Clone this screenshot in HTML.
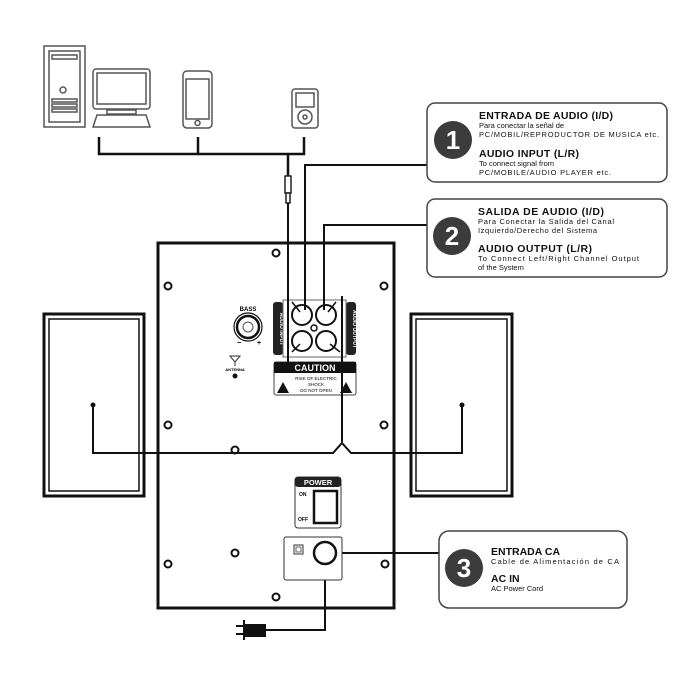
<!DOCTYPE html>
<html><head><meta charset="utf-8"><style>
html,body{margin:0;padding:0;background:#fff}
svg{display:block}
text{font-family:"Liberation Sans",sans-serif}
</style></head><body>
<svg width="700" height="700" viewBox="0 0 700 700" xmlns="http://www.w3.org/2000/svg">
<g fill="none" stroke="#555" stroke-width="1.5">
<rect x="44" y="46" width="41" height="81"/>
<rect x="49" y="51" width="31" height="71"/>
<rect x="52" y="55" width="25" height="4"/>
<circle cx="63" cy="90" r="3"/>
<rect x="52" y="99" width="25" height="3"/><rect x="52" y="104" width="25" height="3"/><rect x="52" y="109" width="25" height="3"/>
<rect x="93" y="69" width="57" height="40" rx="3"/>
<rect x="97" y="73" width="49" height="31"/>
<rect x="107" y="110" width="29" height="4"/>
<path d="M97 115 L146 115 L150 127 L93 127 Z"/>
<rect x="183" y="71" width="29" height="57" rx="4"/>
<rect x="186" y="79" width="23" height="40"/>
<circle cx="197.5" cy="123" r="2.5"/>
<rect x="292" y="89" width="26" height="39" rx="3"/>
<rect x="296" y="93" width="18" height="14"/>
<circle cx="305" cy="117" r="7"/><circle cx="305" cy="117" r="2"/>
</g>
<g fill="none" stroke="#111" stroke-width="2.5">
<path d="M99 137 V154 H304 V137 M198 137 V154 M288 154 V176"/>
</g>
<rect x="285" y="176" width="6" height="17" fill="#fff" stroke="#222" stroke-width="1.5"/>
<rect x="286" y="193" width="4" height="10" fill="#fff" stroke="#222" stroke-width="1.5"/>
<g fill="none" stroke="#111">
<rect x="44" y="314" width="100" height="182" stroke-width="3"/>
<rect x="49" y="319" width="90" height="172" stroke-width="1.5"/>
<rect x="411" y="314" width="101" height="182" stroke-width="3"/>
<rect x="416" y="319" width="91" height="172" stroke-width="1.5"/>
<rect x="158" y="243" width="236" height="365" stroke-width="3"/>
</g>
<g fill="#fff" stroke="#111" stroke-width="2">
<circle cx="276" cy="253" r="3.5"/><circle cx="168" cy="286" r="3.5"/><circle cx="384" cy="286" r="3.5"/>
<circle cx="168" cy="425" r="3.5"/><circle cx="384" cy="425" r="3.5"/><circle cx="235" cy="450" r="3.5"/>
<circle cx="168" cy="564" r="3.5"/><circle cx="235" cy="553" r="3.5"/><circle cx="385" cy="564" r="3.5"/><circle cx="276" cy="597" r="3.5"/>
</g>
<text x="248" y="311" font-size="6" font-weight="bold" text-anchor="middle">BASS</text>
<circle cx="248" cy="327" r="14" fill="none" stroke="#111" stroke-width="1.2"/>
<circle cx="248" cy="327" r="11" fill="none" stroke="#111" stroke-width="2.5"/>
<circle cx="248" cy="327" r="5" fill="none" stroke="#555"/>
<text x="237" y="345" font-size="8" font-weight="bold">–</text><text x="257" y="345" font-size="7" font-weight="bold">+</text>
<path d="M230 356 L240 356 L235 362 Z M235 362 V366" fill="none" stroke="#333"/>
<text x="235" y="371" font-size="4" text-anchor="middle" font-weight="bold">ANTENNA</text>
<circle cx="235" cy="376" r="2.5" fill="#111"/>
<rect x="273" y="302" width="10" height="53" rx="3" fill="#222"/>
<rect x="346" y="302" width="10" height="53" rx="3" fill="#222"/>
<text transform="translate(280,329) rotate(90)" font-size="5" fill="#fff" text-anchor="middle" font-weight="bold">AUDIO INPUT</text>
<text transform="translate(353,329) rotate(90)" font-size="5" fill="#fff" text-anchor="middle" font-weight="bold">AUDIO OUTPUT</text>
<rect x="283" y="300" width="63" height="57" fill="none" stroke="#666"/>
<g fill="#fff" stroke="#111" stroke-width="2">
<circle cx="302" cy="315" r="10"/><circle cx="326" cy="315" r="10"/><circle cx="302" cy="341" r="10"/><circle cx="326" cy="341" r="10"/>
</g>
<circle cx="314" cy="328" r="3" fill="#fff" stroke="#111" stroke-width="1.5"/>
<rect x="274" y="362" width="82" height="33" rx="2" fill="#fff" stroke="#444"/>
<rect x="274" y="362" width="82" height="11" fill="#111"/>
<text x="315" y="371" font-size="9" font-weight="bold" fill="#fff" text-anchor="middle">CAUTION</text>
<text x="316" y="380" font-size="4.5" text-anchor="middle">RISK OF ELECTRIC</text>
<text x="316" y="386" font-size="4.5" text-anchor="middle">SHOCK</text>
<text x="316" y="392" font-size="4.5" text-anchor="middle">DO NOT OPEN</text>
<path d="M277 393 L283 382 L289 393 Z M340 393 L346 382 L352 393 Z" fill="#111"/>
<g fill="none" stroke="#111" stroke-width="2">
<path d="M288 203 V362"/>
<path d="M305 310 V165 H427"/>
<path d="M324 310 V225 H427"/>
<path d="M342 296 V442"/>
<path d="M93 405 V453 H333 L342 443 L351 453 H462 V405"/>
<path d="M325 553 H439"/>
<path d="M325 565 V630 H258"/>
</g>
<circle cx="93" cy="405" r="2.5" fill="#111"/><circle cx="462" cy="405" r="2.5" fill="#111"/>
<g stroke="#111" stroke-width="1.5"><path d="M292 302 L300 312 M336 302 L328 312 M292 352 L300 344 M340 352 L330 344"/></g>
<rect x="295" y="477" width="46" height="51" rx="3" fill="#fff" stroke="#333"/>
<rect x="295" y="477" width="46" height="10" rx="3" fill="#222"/>
<text x="318" y="485" font-size="7.5" font-weight="bold" fill="#fff" text-anchor="middle">POWER</text>
<text x="299" y="496" font-size="5" font-weight="bold">ON</text><text x="298" y="521" font-size="5" font-weight="bold">OFF</text>
<rect x="314" y="491" width="23" height="32" fill="#fff" stroke="#111" stroke-width="2.5"/>
<rect x="284" y="537" width="58" height="43" rx="2" fill="#fff" stroke="#333"/>
<rect x="294" y="545" width="9" height="9" fill="none" stroke="#333"/><rect x="296" y="547" width="5" height="5" fill="none" stroke="#666"/>
<circle cx="325" cy="553" r="11" fill="#fff" stroke="#111" stroke-width="2.5"/>
<path d="M245 624 H266 V637 H245 Z" fill="#111"/>
<path d="M236 626 H245 M236 634 H245 M244 620 V640" stroke="#111" stroke-width="2"/>
<g fill="#fff" stroke="#444" stroke-width="1.5">
<rect x="427" y="103" width="240" height="79" rx="8"/>
<rect x="427" y="199" width="240" height="78" rx="8"/>
<rect x="439" y="531" width="188" height="77" rx="10"/>
</g>
<g fill="#3c3c3c"><circle cx="453" cy="140" r="19"/><circle cx="452" cy="236" r="19"/><circle cx="464" cy="568" r="19"/></g>
<g fill="#fff" font-weight="bold" font-size="26" text-anchor="middle">
<text x="453" y="149">1</text><text x="452" y="245">2</text><text x="464" y="577">3</text>
</g>
<g fill="#111">
<text x="479" y="119" font-size="10.5" font-weight="bold" textLength="134">ENTRADA DE AUDIO (I/D)</text>
<text x="479" y="128" font-size="7.5">Para conectar la señal de</text>
<text x="479" y="137" font-size="7.5" textLength="180">PC/MOBIL/REPRODUCTOR DE MUSICA etc.</text>
<text x="479" y="157" font-size="10.5" font-weight="bold" textLength="100">AUDIO INPUT (L/R)</text>
<text x="479" y="166" font-size="7.5">To connect signal from</text>
<text x="479" y="175" font-size="7.5" textLength="132">PC/MOBILE/AUDIO PLAYER etc.</text>
<text x="478" y="215" font-size="10.5" font-weight="bold" textLength="126">SALIDA DE AUDIO (I/D)</text>
<text x="478" y="224" font-size="7.5" textLength="136">Para Conectar la Salida del Canal</text>
<text x="478" y="233" font-size="7.5" textLength="119">Izquierdo/Derecho del Sistema</text>
<text x="478" y="252" font-size="10.5" font-weight="bold" textLength="114">AUDIO OUTPUT (L/R)</text>
<text x="478" y="261" font-size="7.5" textLength="161">To Connect Left/Right Channel Output</text>
<text x="478" y="270" font-size="7.5">of the System</text>
<text x="491" y="555" font-size="10.5" font-weight="bold">ENTRADA CA</text>
<text x="491" y="564" font-size="7.5" textLength="128">Cable de Alimentación de CA</text>
<text x="491" y="582" font-size="10.5" font-weight="bold">AC IN</text>
<text x="491" y="591" font-size="7.5">AC Power Cord</text>
</g>
</svg>
</body></html>
